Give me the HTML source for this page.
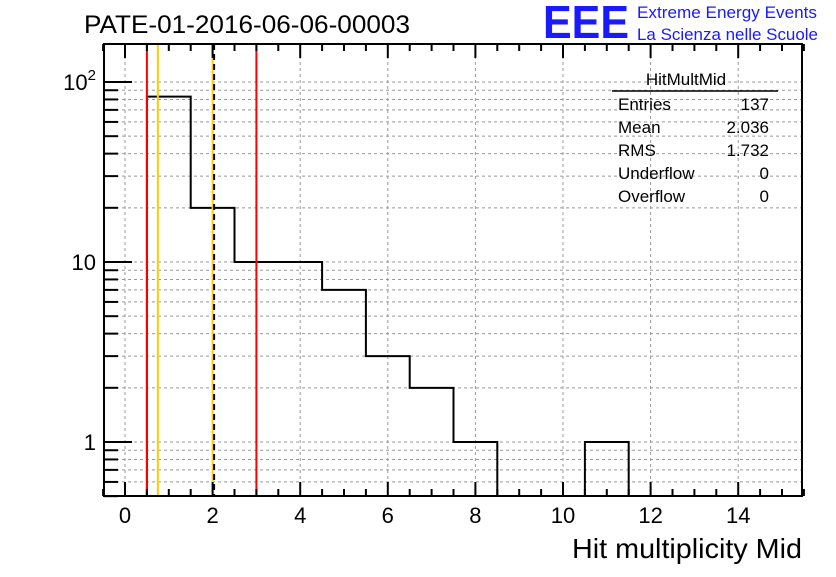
<!DOCTYPE html>
<html><head><meta charset="utf-8"><style>
body{margin:0;background:#fff;}
svg text{font-family:"Liberation Sans",sans-serif;}
</style></head><body>
<svg width="836" height="572" xmlns="http://www.w3.org/2000/svg">
<g id="grid"></g>
<g id="bars"></g>
<g id="lines"></g>
<rect x="104" y="44" width="698" height="452" fill="none" stroke="#000" stroke-width="2"/>
<g id="ticks"></g>
<text x="84" y="33" font-size="25" textLength="326" lengthAdjust="spacingAndGlyphs">PATE-01-2016-06-06-00003</text>
<text x="543" y="38" font-size="46" font-weight="bold" fill="#1a1aff" textLength="86" lengthAdjust="spacingAndGlyphs">EEE</text>
<text x="637" y="18" font-size="17" fill="#1a1aff" textLength="180" lengthAdjust="spacingAndGlyphs">Extreme Energy Events</text>
<text x="637" y="40" font-size="17" fill="#1a1aff" textLength="181" lengthAdjust="spacingAndGlyphs">La Scienza nelle Scuole</text>
<g>
<text x="686" y="85" font-size="17" text-anchor="middle">HitMultMid</text>
<line x1="612" y1="91" x2="778" y2="91" stroke="#000" stroke-width="1.5"/>
<text x="618" y="110" font-size="17">Entries</text><text x="769" y="110" font-size="17" text-anchor="end">137</text>
<text x="618" y="133" font-size="17">Mean</text><text x="769" y="133" font-size="17" text-anchor="end">2.036</text>
<text x="618" y="156" font-size="17">RMS</text><text x="769" y="156" font-size="17" text-anchor="end">1.732</text>
<text x="618" y="179" font-size="17">Underflow</text><text x="769" y="179" font-size="17" text-anchor="end">0</text>
<text x="618" y="202" font-size="17">Overflow</text><text x="769" y="202" font-size="17" text-anchor="end">0</text>
</g>
<text x="802" y="558" font-size="28" text-anchor="end" textLength="230" lengthAdjust="spacingAndGlyphs">Hit multiplicity Mid</text>
<text x="96" y="90" font-size="22" text-anchor="end">10<tspan font-size="15" dy="-10">2</tspan></text>
<script>
const binCenters=[1,2,3,4,5,6,7,8,9,10,11];
const binCounts=[83,20,10,10,7,3,2,1,0,0,1];
const xTicks=[0,2,4,6,8,10,12,14];
const yMajor=[1,10,100];
const yMajorLabels=["1","10",""];
const redLines=[0.5,3];
const yellowLines=[0.75,2];
const dashedLines=[2];
const NS="http://www.w3.org/2000/svg";
const X=v=>125+(v)*43.8;
const Y=v=>442-Math.log10(v)*180;
const L=104,R=802,T=44,B=496;
function mk(tag,at,parent){const e=document.createElementNS(NS,tag);for(const k in at)e.setAttribute(k,at[k]);document.getElementById(parent).appendChild(e);return e;}
xTicks.forEach(t=>{const e=mk('line',{x1:X(t),x2:X(t),y1:T,y2:B,stroke:'#999','stroke-dasharray':'3,3','stroke-width':1},'grid');

});
const yTicksAll=[];
for(let d=0.1;d<=100;d*=10){for(let m=1;m<10;m++){const v=+(m*d).toPrecision(3);if(v>=0.5&&v<=160)yTicksAll.push(v);}}
yTicksAll.forEach(v=>{const e=mk('line',{x1:L,x2:R,y1:Y(v),y2:Y(v),stroke:'#999','stroke-dasharray':'3,3','stroke-width':1},'grid');


const major=yMajor.includes(v);
const t=mk('line',{x1:L,x2:L+(major?28:14),y1:Y(v),y2:Y(v),stroke:'#000','stroke-width':2},'ticks');

});
yMajor.forEach((v,i)=>{if(!yMajorLabels[i])return;const t=mk('text',{x:96,y:Y(v)+8,'font-size':22,'text-anchor':'end'},'ticks');t.textContent=yMajorLabels[i];

});
for(let v=-0.5;v<=15.5;v+=0.5){const major=Number.isInteger(v/2)&&Number.isInteger(v);
const len=major?14:7;
[[B,B-len],[T,T+len]].forEach(p=>{const t=mk('line',{x1:X(v),x2:X(v),y1:p[0],y2:p[1],stroke:'#000','stroke-width':2},'ticks');

});}
xTicks.forEach(v=>{const t=mk('text',{x:X(v),y:523,'font-size':22,'text-anchor':'middle'},'ticks');t.textContent=v;

});
let d='';let prev=null;
binCenters.forEach((c,i)=>{const n=binCounts[i];const x0=X(c-0.5),x1=X(c+0.5);const y=n>0?Y(n):B;
if(prev===null)d+=`M${x0},${B}`;d+=`L${x0},${y}L${x1},${y}`;prev=y;});
d+=`L${X(binCenters[binCenters.length-1]+0.5)},${B}`;
const h=mk('path',{d:d,fill:'none',stroke:'#000','stroke-width':2},'bars');


redLines.forEach(v=>{const e=mk('line',{x1:X(v),x2:X(v),y1:T,y2:B,stroke:'#f00','stroke-width':2},'lines');

});
yellowLines.forEach(v=>{const e=mk('line',{x1:X(v),x2:X(v),y1:T,y2:B,stroke:'#fc0','stroke-width':2},'lines');

});
dashedLines.forEach(v=>{const e=mk('line',{x1:X(v)+1.5,x2:X(v)+1.5,y1:T,y2:B,stroke:'#000','stroke-width':2,'stroke-dasharray':'6,4'},'lines');

});
</script>
</svg>
</body></html>
